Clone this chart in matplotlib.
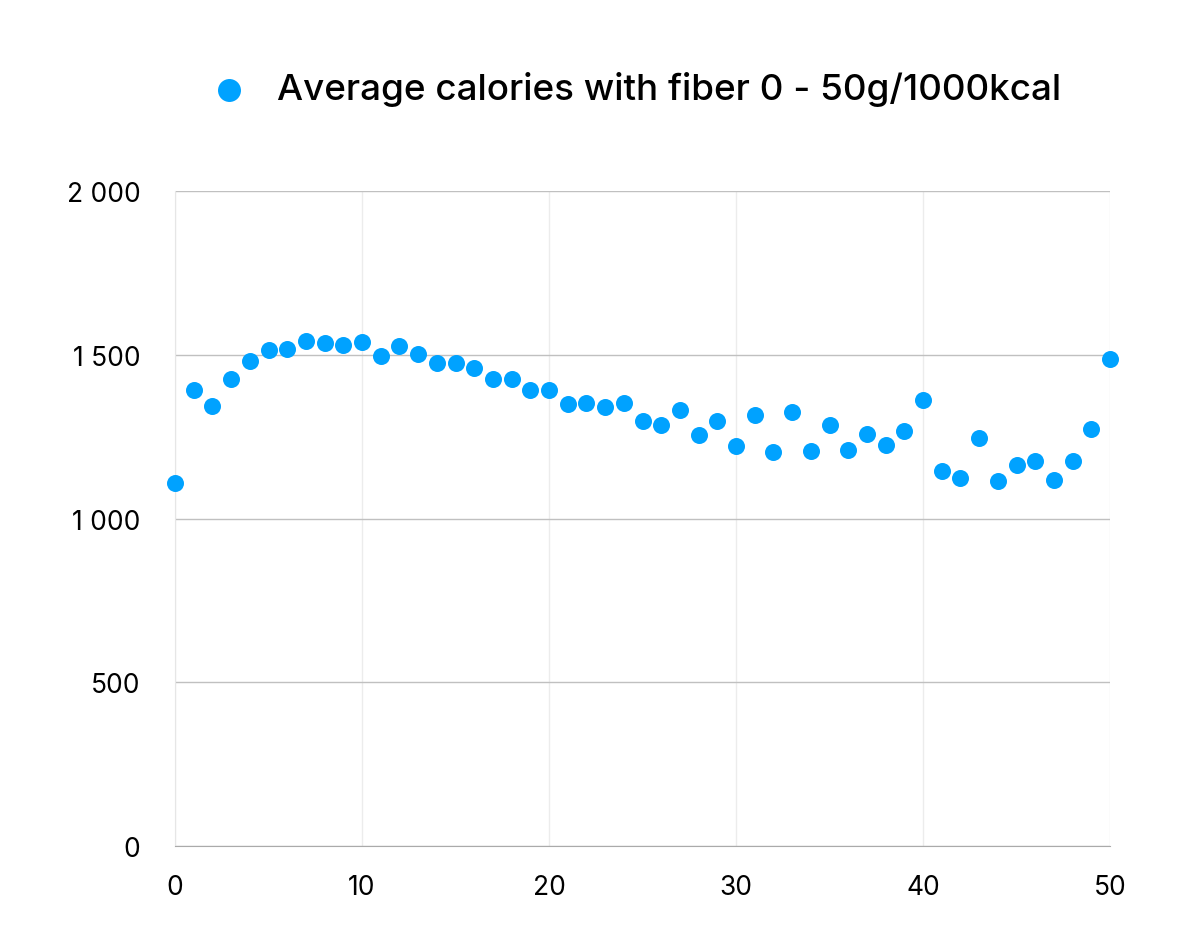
import matplotlib
matplotlib.use("Agg")
import matplotlib.pyplot as plt
from matplotlib.ticker import FuncFormatter

fiber = list(range(0, 51))
calories = [1108, 1392, 1343, 1426, 1481, 1514, 1518, 1542, 1536, 1530,
            1539, 1496, 1527, 1502, 1475, 1475, 1460, 1426, 1426, 1392,
            1392, 1350, 1353, 1340, 1353, 1298, 1285, 1331, 1255, 1298,
            1221, 1316, 1203, 1325, 1206, 1285, 1209, 1258, 1224, 1267,
            1362, 1145, 1124, 1246, 1115, 1163, 1176, 1118, 1176, 1273,
            1487]
series_label = "Average calories with fiber 0 - 50g/1000kcal"
y_ticks = [0, 500, 1000, 1500, 2000]
x_ticks = [0, 10, 20, 30, 40, 50]

plt.rcParams['font.family'] = ['Inter', 'DejaVu Sans']

fig = plt.figure(figsize=(12, 9.37), dpi=100)
ax = fig.add_axes([175/1200, 1-847/937, (1110-175)/1200, (847-192)/937])

color = '#00A2FF'
ax.scatter(fiber, calories, s=150, color=color, zorder=3, clip_on=False,
           linewidths=0, label=series_label)

ax.set_xlim(0, 50)
ax.set_ylim(0, 2000)
ax.set_yticks(y_ticks)
ax.set_xticks(x_ticks)
ax.yaxis.set_major_formatter(FuncFormatter(lambda v, p: f"{int(v):,}".replace(",", " ")))

ax.grid(axis='y', color='#c0c0c0', linewidth=1)
ax.grid(axis='x', color='#ececec', linewidth=1)
ax.set_axisbelow(True)
for s in ['top', 'right']:
    ax.spines[s].set_visible(False)
ax.spines['left'].set_color('#e6e6e6')
ax.spines['bottom'].set_color('#aaaaaa')
ax.tick_params(length=0, labelsize=19, colors='black')
ax.tick_params(axis='x', pad=20)
ax.tick_params(axis='y', pad=25)

leg = fig.legend(loc='center', bbox_to_anchor=(0.522, 1-90/937), frameon=False,
                 prop={'size': 26.5, 'weight': 'medium'}, handletextpad=0.3,
                 markerscale=1.35)

fig.savefig('out.png', dpi=100)
